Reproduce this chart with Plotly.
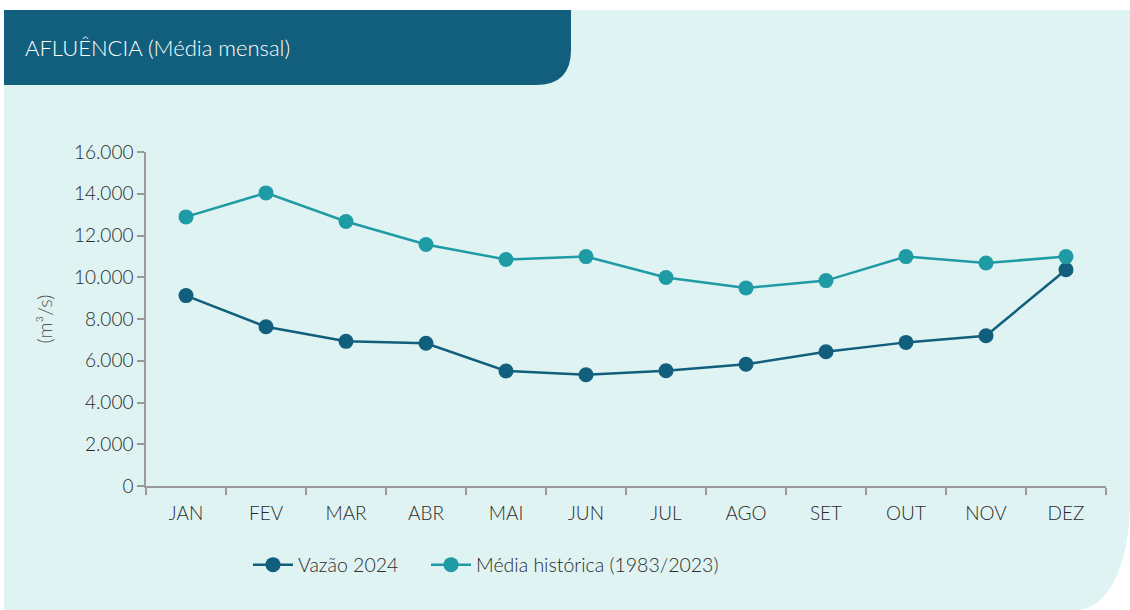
import plotly.graph_objects as go

months = ["JAN", "FEV", "MAR", "ABR", "MAI", "JUN", "JUL", "AGO", "SET", "OUT", "NOV", "DEZ"]
vazao_2024 = [9120, 7630, 6930, 6840, 5510, 5330, 5520, 5830, 6430, 6880, 7200, 10360]
media_historica = [12890, 14040, 12670, 11570, 10850, 10990, 9990, 9490, 9840, 10990, 10680, 10990]
y_ticks = [0, 2000, 4000, 6000, 8000, 10000, 12000, 14000, 16000]

DARK = "#115F7C"
LIGHT = "#1E9BA5"
PANEL = "#E0F3F3"
FONT = "Lato"

W, H = 1130, 610
L, R, T, B = 146, 24, 152, 124
PW, PH = W - L - R, H - T - B


def px(x):
    return (x - L) / PW


def py(y):
    return (H - B - y) / PH


def path(cmds):
    out = []
    for c in cmds:
        if isinstance(c, str):
            out.append(c)
        else:
            out.append(f"{px(c[0]):.5f},{py(c[1]):.5f}")
    return " ".join(out)


fig = go.Figure()
fig.add_trace(go.Scatter(
    x=months, y=vazao_2024, name="Vazão 2024", mode="lines+markers",
    line=dict(color=DARK, width=2.5), marker=dict(color=DARK, size=15),
    legend="legend", showlegend=True,
))
fig.add_trace(go.Scatter(
    x=months, y=media_historica, name="Média histórica (1983/2023)", mode="lines+markers",
    line=dict(color=LIGHT, width=2.5), marker=dict(color=LIGHT, size=15),
    legend="legend2", showlegend=True,
))

panel = path(["M", (4, 10), "L", (1130, 10), "L", (1130, 500),
              "C", (1130, 565), (1108, 610), (1076, 610), "L", (4, 610), "Z"])
header = path(["M", (4, 10), "L", (571, 10), "L", (571, 50),
               "Q", (571, 85), (536, 85), "L", (4, 85), "Z"])

tick_font = dict(family=FONT, size=19, color="#2A2A2A", weight=300)
legend_font = dict(family=FONT, size=19.5, color="#2A2A2A", weight=300)


def legend_at(x):
    return dict(
        orientation="h", x=px(x), y=py(565), xanchor="left", yanchor="middle",
        font=legend_font, bgcolor="rgba(0,0,0,0)", itemwidth=40,
    )


fig.update_layout(
    width=W, height=H,
    margin=dict(l=L, r=R, t=T, b=B),
    paper_bgcolor="white",
    plot_bgcolor="rgba(0,0,0,0)",
    separators=",.",
    showlegend=True,
    font=dict(family=FONT, color="#333333"),
    shapes=[
        dict(type="path", path=panel, xref="paper", yref="paper",
             fillcolor=PANEL, line=dict(width=0), layer="below"),
        dict(type="path", path=header, xref="paper", yref="paper",
             fillcolor=DARK, line=dict(width=0), layer="below"),
    ],
    annotations=[
        dict(text="AFLUÊNCIA (Média mensal)", xref="paper", yref="paper",
             x=px(23), y=py(47), xanchor="left", yanchor="middle", showarrow=False,
             font=dict(family=FONT, size=22, color="white", weight=300)),
    ],
    xaxis=dict(
        type="category", range=[-0.5, 11.5], tickson="boundaries",
        showline=True, linecolor="#9A9A9A", linewidth=1.5,
        ticks="outside", ticklen=7, tickcolor="#9A9A9A", tickwidth=1.5,
        showgrid=False, zeroline=False,
        tickfont=tick_font, ticklabelstandoff=9,
    ),
    yaxis=dict(
        range=[0, 16000], tickvals=y_ticks, tickformat=",d",
        showline=True, linecolor="#9A9A9A", linewidth=1.5,
        ticks="outside", ticklen=7, tickcolor="#9A9A9A", tickwidth=1.5,
        showgrid=False, zeroline=False,
        tickfont=tick_font,
        title=dict(text="(m³/s)", font=dict(family=FONT, size=20, color="#555555", weight=300),
                   standoff=16),
    ),
    legend=legend_at(248),
    legend2=legend_at(426),
)

fig.write_html(
    "out.html",
    config={"displayModeBar": False},
    post_script="document.body.style.margin='0';document.body.style.overflow='hidden';",
)
